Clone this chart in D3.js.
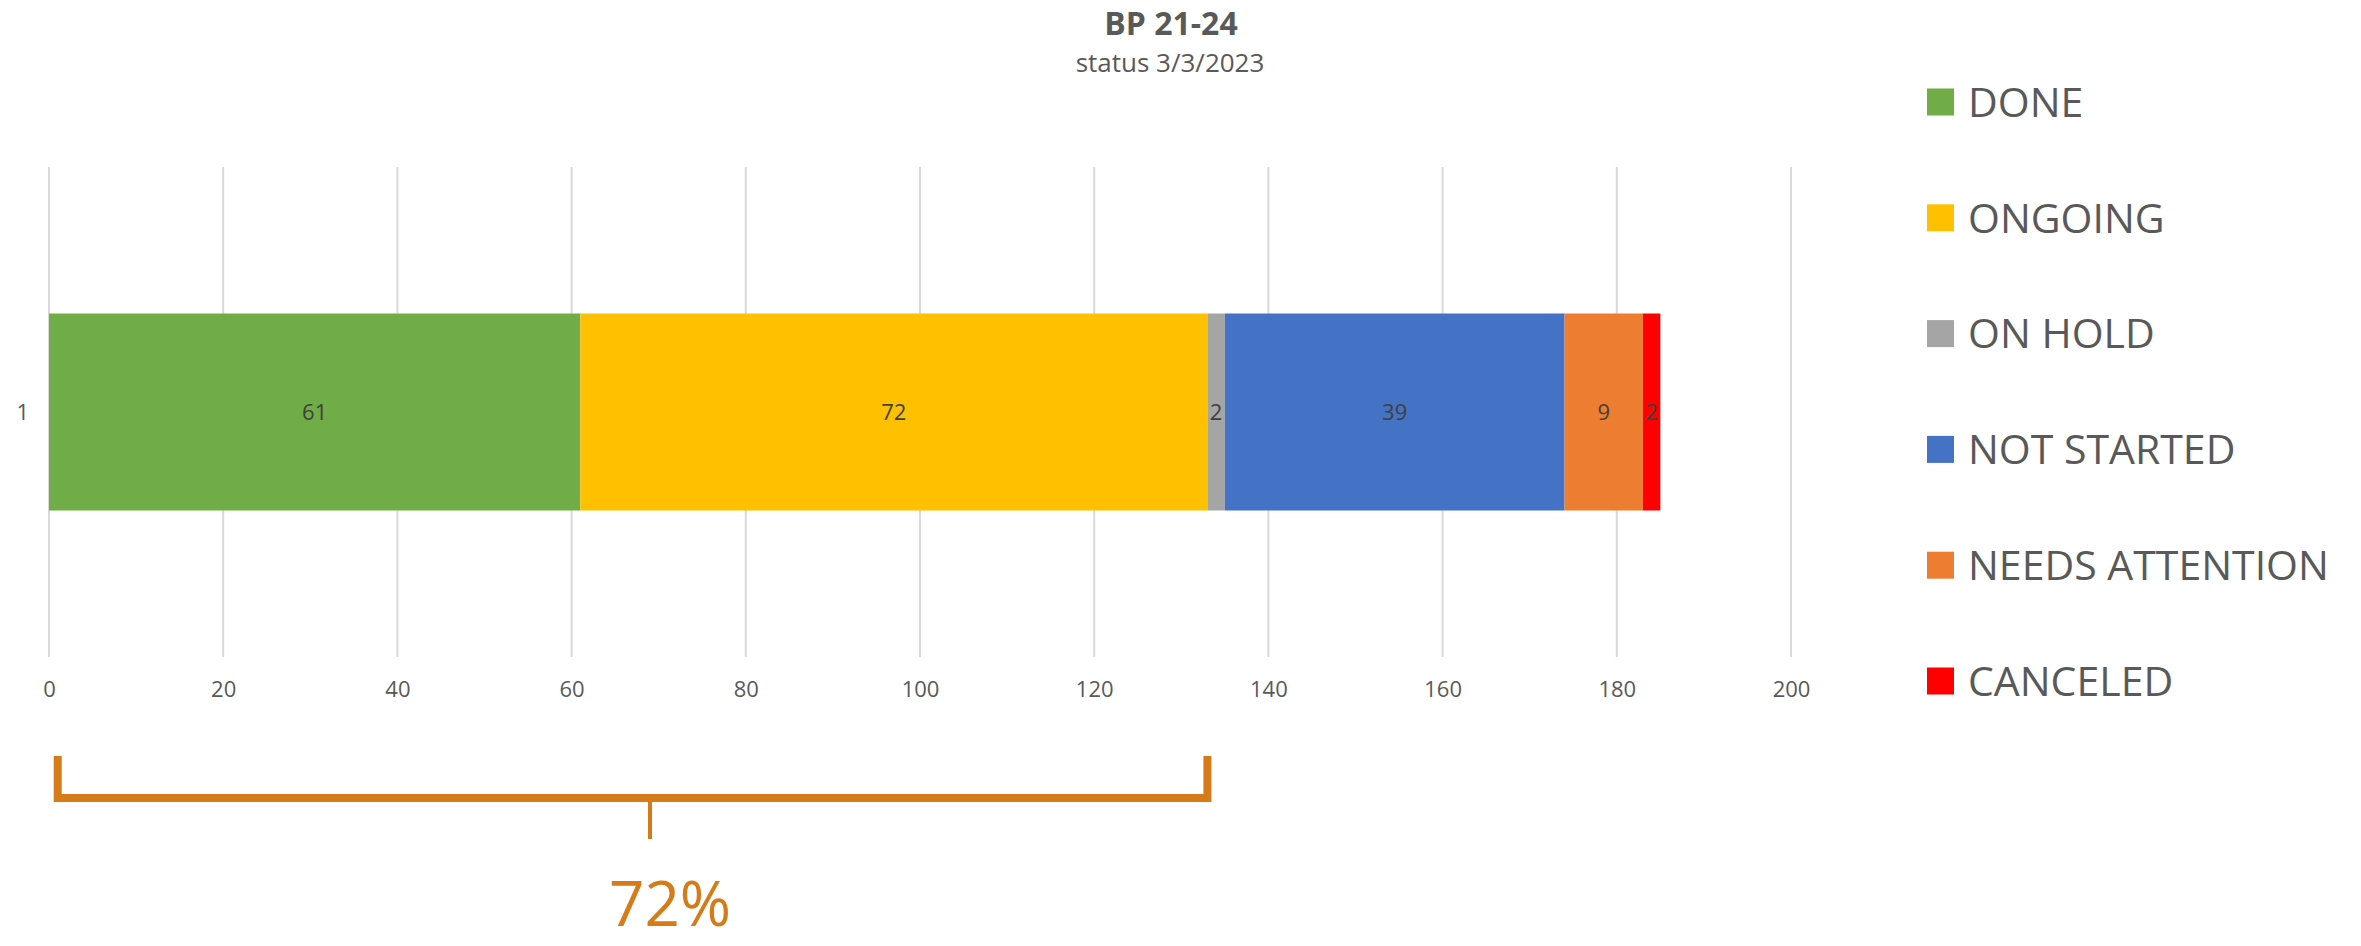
<!DOCTYPE html>
<html>
<head>
<meta charset="utf-8">
<script src="https://cdn.jsdelivr.net/npm/d3@7"></script>
<style>
  body { margin: 0; background: #fff; }
  svg text { font-family: "Open Sans", "Noto Sans", sans-serif; }
</style>
</head>
<body>
<svg id="chart" width="2361" height="946"></svg>
<script>
// data
var categories = ["1"];
var seriesNames = ["DONE", "ONGOING", "ON HOLD", "NOT STARTED", "NEEDS ATTENTION", "CANCELED"];
var seriesValues = [61, 72, 2, 39, 9, 2];
var seriesColors = ["#70ad47", "#ffc000", "#a5a5a5", "#4472c4", "#ed7d31", "#ff0000"];
var xTicks = [0, 20, 40, 60, 80, 100, 120, 140, 160, 180, 200];
var titleText = "BP 21-24";
var subtitleText = "status 3/3/2023";
// bracket note: from start to end of DONE + ONGOING
var bracketStart = 1;
var bracketMid = 69;
var bracketLabelAt = 71.3;

var drawChart = function(){
    var svg = d3.select("#chart");
    var left = 49, right = 1791, top = 167, bottom = 657;

    var x = d3.scaleLinear().domain([0, 200]).range([left, right]);
    var y = d3.scaleBand().domain(categories).range([top, bottom])
        .paddingInner(0.4265).paddingOuter(0.4265);

    // gridlines
    svg.append("g")
        .selectAll("line")
        .data(xTicks)
        .enter()
        .append("line")
        .attr("x1", function(d){ return x(d); })
        .attr("x2", function(d){ return x(d); })
        .attr("y1", top)
        .attr("y2", bottom)
        .attr("stroke", "#d9d9d9")
        .attr("stroke-width", 2);

    // x axis labels
    var axis = svg.append("g")
        .attr("transform", "translate(0," + bottom + ")")
        .call(d3.axisBottom(x).tickValues(xTicks).tickSize(0).tickPadding(0));
    axis.select(".domain").remove();
    axis.selectAll("text")
        .attr("y", 32)
        .attr("dy", "0.35em")
        .style("font-size", "22px")
        .style("fill", "#595959");

    // category axis
    var yAxis = svg.append("g")
        .attr("transform", "translate(" + (left - 20) + ",0)")
        .call(d3.axisLeft(y).tickSize(0).tickPadding(0));
    yAxis.select(".domain").remove();
    yAxis.selectAll("text")
        .attr("dy", "0.35em")
        .style("font-size", "22px")
        .style("fill", "#595959");

    // stacked segments
    var cum = 0;
    var segs = seriesValues.map(function(v, i){
        var s = { name: seriesNames[i], value: v, x0: cum, x1: cum + v, color: seriesColors[i] };
        cum += v;
        return s;
    });
    var total = cum;

    svg.append("g")
        .selectAll("rect")
        .data(segs)
        .enter()
        .append("rect")
        .attr("x", function(d){ return x(d.x0); })
        .attr("width", function(d){ return x(d.x1) - x(d.x0); })
        .attr("y", y("1"))
        .attr("height", y.bandwidth())
        .attr("fill", function(d){ return d.color; });

    svg.append("g")
        .selectAll("text")
        .data(segs)
        .enter()
        .append("text")
        .attr("x", function(d){ return x((d.x0 + d.x1) / 2); })
        .attr("y", y("1") + y.bandwidth() / 2)
        .attr("dy", "0.35em")
        .attr("text-anchor", "middle")
        .style("font-size", "22px")
        .style("fill", "#404040")
        .text(function(d){ return d.value; });

    // titles
    svg.append("text")
        .attr("x", 1171).attr("y", 35)
        .attr("text-anchor", "middle")
        .style("font-size", "32px").style("font-weight", "bold")
        .style("fill", "#595959")
        .text(titleText);
    svg.append("text")
        .attr("x", 1170).attr("y", 72)
        .attr("text-anchor", "middle")
        .style("font-size", "26px")
        .style("fill", "#595959")
        .text(subtitleText);

    // legend
    var lg = svg.append("g")
        .selectAll("g")
        .data(segs)
        .enter()
        .append("g")
        .attr("transform", function(d, i){ return "translate(1927," + (102 + i * 115.8) + ")"; });
    lg.append("rect")
        .attr("x", 0).attr("y", -13.5)
        .attr("width", 27).attr("height", 27)
        .attr("fill", function(d){ return d.color; });
    lg.append("text")
        .attr("x", 41).attr("y", 0)
        .attr("dy", "0.36em")
        .style("font-size", "41px")
        .style("fill", "#595959")
        .text(function(d){ return d.name; });

    // bracket over DONE + ONGOING
    var doneOngoing = seriesValues[0] + seriesValues[1];
    var orange = "#d57b17";
    var bx0 = x(bracketStart), bx1 = x(doneOngoing);
    svg.append("path")
        .attr("d", "M" + bx0 + ",756 V798 H" + bx1 + " V756")
        .attr("fill", "none")
        .attr("stroke", orange)
        .attr("stroke-width", 8);
    svg.append("line")
        .attr("x1", x(bracketMid)).attr("x2", x(bracketMid))
        .attr("y1", 798).attr("y2", 839)
        .attr("stroke", orange)
        .attr("stroke-width", 4);
    svg.append("text")
        .attr("x", x(bracketLabelAt)).attr("y", 926)
        .attr("text-anchor", "middle")
        .style("font-size", "62px")
        .style("fill", orange)
        .text(Math.round(doneOngoing / total * 100) + "%");
}

var main = function(){
    drawChart();
}();
</script>
</body>
</html>
